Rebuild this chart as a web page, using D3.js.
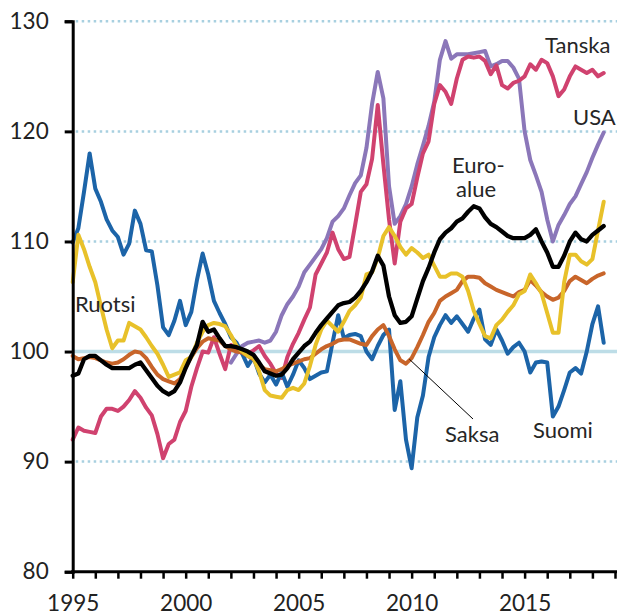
<!DOCTYPE html>
<html lang="fi">
<head>
<meta charset="UTF-8">
<title>Reaalinen efektiivinen valuuttakurssi</title>
<script src="https://d3js.org/d3.v7.min.js"></script>
<style>
  body { margin: 0; background: #fff; }
  svg { display: block; font-family: Lato, "Liberation Sans", Arial, sans-serif; }
  .lbl { font-size: 22px; fill: #262626; }
</style>
</head>
<body>
<div id="chart"></div>
<script>
// quarterly index values, 1995Q1 .. 2018Q3
const startYear = 1995;

const suomi = [109.9,111.2,114.5,118.0,114.8,113.6,112.0,111.0,110.4,108.8,109.8,112.8,111.6,109.2,109.1,106.0,
  102.2,101.5,102.8,104.6,102.4,103.6,106.5,108.9,107.0,104.6,103.5,102.5,101.3,100.8,99.8,98.7,
  99.5,98.0,97.2,97.9,97.0,98.1,96.8,97.9,99.2,98.5,97.5,97.8,98.1,98.2,100.8,103.3,
  101.2,101.5,101.6,101.4,100.0,99.3,100.5,101.5,102.0,94.7,97.3,92.0,89.4,94.0,96.0,99.5,
  101.3,102.4,103.3,102.6,103.2,102.5,101.8,103.0,103.8,101.1,100.6,102.0,101.0,99.8,100.4,100.8,
  100.0,98.1,99.0,99.1,99.0,94.1,95.0,96.5,98.1,98.5,98.0,100.0,102.5,104.1,100.8];

const ruotsi = [106.3,110.6,109.3,107.7,106.3,104.1,102.0,100.3,101.0,101.0,102.6,102.3,102.0,101.3,100.5,99.8,
  98.8,97.7,97.9,98.1,99.2,99.5,100.8,101.8,102.4,102.6,102.5,102.3,101.5,100.5,100.0,99.6,
  99.4,98.2,96.5,96.0,95.9,95.8,96.5,96.7,96.5,97.1,98.7,100.6,102.0,102.8,102.3,101.8,
  102.7,103.7,104.2,104.9,107.0,107.2,108.5,110.5,111.3,110.5,109.5,108.8,109.4,109.0,108.5,108.8,
  107.8,106.8,106.8,107.1,107.1,106.8,105.5,103.7,102.5,101.4,101.2,102.4,102.9,103.6,104.2,105.2,
  105.5,107.0,106.2,105.3,103.5,101.7,101.7,106.3,108.8,108.8,108.2,107.9,108.4,111.0,113.6];

const saksa = [99.6,99.3,99.4,99.5,99.4,99.2,99.0,98.9,99.0,99.3,99.7,100.0,99.9,99.4,98.6,97.9,
  97.5,97.3,97.1,97.5,98.6,99.5,100.3,100.9,101.2,101.1,101.0,100.5,100.2,100.0,99.9,99.6,
  99.3,98.8,98.4,98.3,98.2,98.4,98.7,98.9,99.1,99.3,99.4,99.8,100.2,100.5,100.7,101.0,
  101.1,101.1,100.9,100.7,100.6,101.4,102.0,102.4,101.4,100.2,99.2,98.9,99.4,100.4,101.5,102.7,
  103.5,104.6,105.0,105.3,105.6,106.4,106.8,106.8,106.7,106.2,105.9,105.6,105.4,105.2,105.0,105.4,
  105.6,106.5,106.0,105.4,105.0,104.7,104.9,105.5,106.4,106.8,106.5,106.2,106.6,106.9,107.1];

const tanska = [92.0,93.1,92.8,92.7,92.6,94.1,94.8,94.8,94.6,95.0,95.6,96.4,95.8,94.9,94.2,92.5,
  90.3,91.6,92.0,93.6,94.6,96.8,98.5,100.0,99.9,101.3,99.8,98.4,100.6,100.3,100.1,99.8,
  100.1,100.5,99.6,98.9,98.0,97.6,99.5,100.7,101.7,102.9,104.0,107.0,108.0,109.0,110.8,109.3,
  108.4,108.6,111.5,114.5,115.2,117.5,122.4,117.0,112.0,108.0,111.8,113.0,113.4,115.8,118.0,119.1,
  122.5,124.2,123.6,122.5,124.8,126.5,126.8,126.7,126.8,126.4,125.2,126.0,124.2,123.9,124.4,124.6,
  125.0,126.1,125.6,126.5,126.2,125.0,123.2,123.8,125.0,125.9,125.6,125.3,125.6,125.0,125.3];

const usa = [null,null,null,null,null,null,null,null,null,null,null,null,null,null,null,null,
  null,null,null,null,null,null,null,null,null,null,null,null,99.0,99.8,100.5,100.8,
  100.9,101.0,100.8,101.0,101.8,103.3,104.3,105.0,105.9,107.2,107.9,108.6,109.3,110.3,111.8,112.3,
  113.0,114.2,115.3,116.0,118.5,122.5,125.4,123.0,115.0,111.6,112.3,113.4,115.0,117.0,118.7,120.5,
  122.7,126.5,128.2,126.6,127.0,127.0,127.0,127.1,127.2,127.3,125.9,126.1,126.4,126.4,125.8,124.8,
  120.0,117.4,116.0,114.5,112.0,110.0,111.5,112.4,113.4,114.1,115.2,116.3,117.6,118.8,119.9];

const euroalue = [97.8,98.0,99.3,99.6,99.6,99.2,98.8,98.5,98.5,98.5,98.5,98.8,99.0,98.3,97.6,96.9,
  96.4,96.1,96.4,97.2,98.5,99.6,100.6,102.7,101.8,102.0,101.2,100.5,100.5,100.4,100.2,100.0,
  99.7,99.0,98.2,98.0,97.8,97.9,98.5,99.3,99.9,100.5,100.9,101.7,102.4,103.0,103.6,104.2,
  104.4,104.5,104.9,105.5,106.3,107.3,108.7,107.8,105.0,103.3,102.6,102.7,103.2,104.8,106.4,107.6,
  109.0,110.2,110.8,111.2,111.8,112.1,112.7,113.2,113.0,112.2,111.6,111.3,110.9,110.5,110.3,110.3,
  110.3,110.6,111.1,110.0,109.0,107.7,107.7,108.7,110.0,110.8,110.2,110.0,110.6,111.0,111.4];

const seriesNames = ["USA", "Tanska", "Suomi", "Saksa", "Ruotsi", "Euro-alue"];
const seriesValues = [usa, tanska, suomi, saksa, ruotsi, euroalue];
const seriesColors = ["#8b77b9", "#d0426f", "#1c64a8", "#c8652a", "#e8c12a", "#000000"];

const yTicks = [80, 90, 100, 110, 120, 130];
const xLabelYears = [1995, 2000, 2005, 2010, 2015];

const W = 617, H = 613;
const mLeft = 72.7, mRight = 615, mTop = 21.3, mBottom = 571.7;

const svg = d3.select("#chart").append("svg").attr("width", W).attr("height", H);

const x = d3.scaleLinear().domain([1995, 2019]).range([mLeft, mRight]);
const y = d3.scaleLinear().domain([80, 130]).range([mBottom, mTop]);

// grid
svg.append("g").selectAll("line")
  .data(yTicks.filter(v => v !== 80 && v !== 100))
  .join("line")
  .attr("x1", mLeft + 3).attr("x2", W)
  .attr("y1", d => y(d)).attr("y2", d => y(d))
  .attr("stroke", "#a8d0e0").attr("stroke-width", 2.5)
  .attr("stroke-dasharray", "2.5,3.5");

svg.append("line")
  .attr("x1", mLeft).attr("x2", W)
  .attr("y1", y(100)).attr("y2", y(100))
  .attr("stroke", "#bddde7").attr("stroke-width", 3.5);

// lines
const line = d3.line()
  .defined(d => d.v != null)
  .x(d => x(d.t))
  .y(d => y(d.v));

seriesValues.forEach((vals, k) => {
  const pts = vals.map((v, i) => ({ t: startYear + i / 4, v: v }));
  svg.append("path")
    .datum(pts)
    .attr("d", line)
    .attr("fill", "none")
    .attr("stroke", seriesColors[k])
    .attr("stroke-width", seriesNames[k] === "Euro-alue" ? 4.3 : 4)
    .attr("stroke-linejoin", "round")
    .attr("stroke-linecap", "round");
});

// axes
const tickFont = "Lato, Liberation Sans, Arial, sans-serif";
const yAxis = d3.axisLeft(y).tickValues(yTicks).tickSize(8).tickPadding(16).tickFormat(d3.format("d"));
const gy = svg.append("g").attr("transform", `translate(${mLeft},0)`).call(yAxis);
gy.select(".domain").attr("stroke", "#000").attr("stroke-width", 3);
gy.selectAll(".tick line").attr("stroke", "#000").attr("stroke-width", 3);
gy.selectAll(".tick text").attr("font-size", 22.5).attr("fill", "#222").attr("font-family", tickFont);

const xAxis = d3.axisBottom(x).tickValues(d3.range(1995, 2020)).tickSize(7).tickSizeOuter(0)
  .tickFormat(d => xLabelYears.includes(d) ? d : "").tickPadding(16);
const gx = svg.append("g").attr("transform", `translate(0,${mBottom})`).call(xAxis);
gx.select(".domain").attr("stroke", "#000").attr("stroke-width", 3).attr("d", `M${mLeft - 1.5},0H${W}`);
gx.selectAll(".tick line").attr("stroke", "#000").attr("stroke-width", 2.5);
gx.selectAll(".tick text").attr("font-size", 22.5).attr("fill", "#222").attr("font-family", tickFont);

// series labels
const labels = [
  { t: "Tanska", x: 545, y: 53 },
  { t: "USA", x: 573, y: 125 },
  { t: "Euro-", x: 452, y: 173 },
  { t: "alue", x: 456, y: 197 },
  { t: "Ruotsi", x: 75, y: 312 },
  { t: "Saksa", x: 445, y: 442 },
  { t: "Suomi", x: 533, y: 438 }
];
svg.append("g").selectAll("text")
  .data(labels)
  .join("text")
  .attr("class", "lbl")
  .attr("x", d => d.x).attr("y", d => d.y)
  .text(d => d.t);

// leader line for Saksa
svg.append("line")
  .attr("x1", x(2009.9)).attr("y1", y(99.3))
  .attr("x2", 473).attr("y2", 419)
  .attr("stroke", "#000").attr("stroke-width", 1);
</script>
</body>
</html>
